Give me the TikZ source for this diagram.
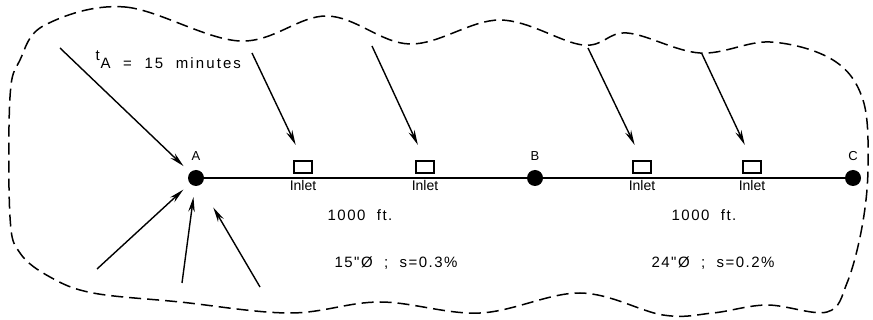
\documentclass[tikz,border=0pt]{standalone}
\usepackage{fontspec}
\setmainfont{Liberation Sans}[Ligatures=TeXOff]
\usetikzlibrary{arrows.meta}
\begin{document}
\begin{tikzpicture}[x=1pt, y=-1pt,
    flow/.style={-{Stealth[length=15pt,width=6.5pt]}, line width=1.4pt},
    junction/.style={circle, fill=black, inner sep=0pt, minimum size=16pt},
    inletbox/.style={draw, line width=1.4pt, minimum width=18pt, minimum height=12pt, inner sep=0pt},
    lbl/.style={font=\fontsize{15}{17}\selectfont\addfontfeature{LetterSpace=10}},
    abc/.style={font=\fontsize{13}{15}\selectfont, label distance=6pt},
    inlbl/.style={font=\fontsize{14}{16}\selectfont, label distance=3pt}]
    \useasboundingbox (0,0) rectangle (873,320);

    % Drainage area boundary
    \draw[dash pattern=on 12pt off 6pt, line width=1.5pt] plot[smooth cycle, tension=0.6] coordinates {
        (45,25) (125,7) (240,41) (327,16) (410,44) (500,20) (583,45) (627,33)
        (700,53) (770,42) (833,60) (863,100) (868,167) (862,227) (847,283)
        (827,312) (767,305) (713,313) (663,315) (580,293) (480,313) (380,302)
        (290,313) (180,302) (93,293) (50,277) (20,253) (10,217) (10,97) (20,60)};

    % Junctions
    \node[junction, label={[abc]above:A}] (A) at (196,178) {};
    \node[junction, label={[abc]above:B}] (B) at (535,178) {};
    \node[junction, label={[abc]above:C}] (C) at (853,178) {};

    % Pipe
    \draw[line width=1.8pt] (A) -- (B) -- (C);

    % Inlets
    \node[inletbox, label={[inlbl]below:Inlet}] (in1) at (303,167) {};
    \node[inletbox, label={[inlbl]below:Inlet}] (in2) at (425,167) {};
    \node[inletbox, label={[inlbl]below:Inlet}] (in3) at (642,167) {};
    \node[inletbox, label={[inlbl]below:Inlet}] (in4) at (752,167) {};

    % Overland flow to A
    \coordinate (a1) at (60,48);
    \coordinate (a2) at (97,269);
    \coordinate (a3) at (182,283);
    \coordinate (a4) at (260,287);
    \draw[flow, shorten >=9pt] (a1) -- (A);
    \draw[flow, shorten >=9pt] (a2) -- (A);
    \draw[flow, shorten >=11pt] (a3) -- (A);
    \draw[flow, shorten >=26pt] (a4) -- (A);

    % Overland flow to inlets
    \coordinate (f1) at (252,53);
    \coordinate (f2) at (372,46);
    \coordinate (f3) at (588,48);
    \coordinate (f4) at (702,54);
    \draw[flow, shorten >=17pt] (f1) -- (in1.north);
    \draw[flow, shorten >=17pt] (f2) -- (in2.north);
    \draw[flow, shorten >=17pt] (f3) -- (in3.north);
    \draw[flow, shorten >=17pt] (f4) -- (in4.north);

    % Time of concentration
    \node[lbl, anchor=base west] (tA) at (92,69) {\addfontfeature{LetterSpace=14}\raisebox{8pt}{t}\kern1pt A\ \ =\ \ 15\ \ minutes};

    % Pipe data
    \node[lbl] (len1) at (360,215) {1000\ \ ft.};
    \node[lbl] (len2) at (704,215) {1000\ \ ft.};
    \node[lbl] (pipe1) at (396,263) {15"Ø\ \ ;\ \ s=0.3\%};
    \node[lbl] (pipe2) at (713,263) {24"Ø\ \ ;\ \ s=0.2\%};
\end{tikzpicture}
\end{document}
